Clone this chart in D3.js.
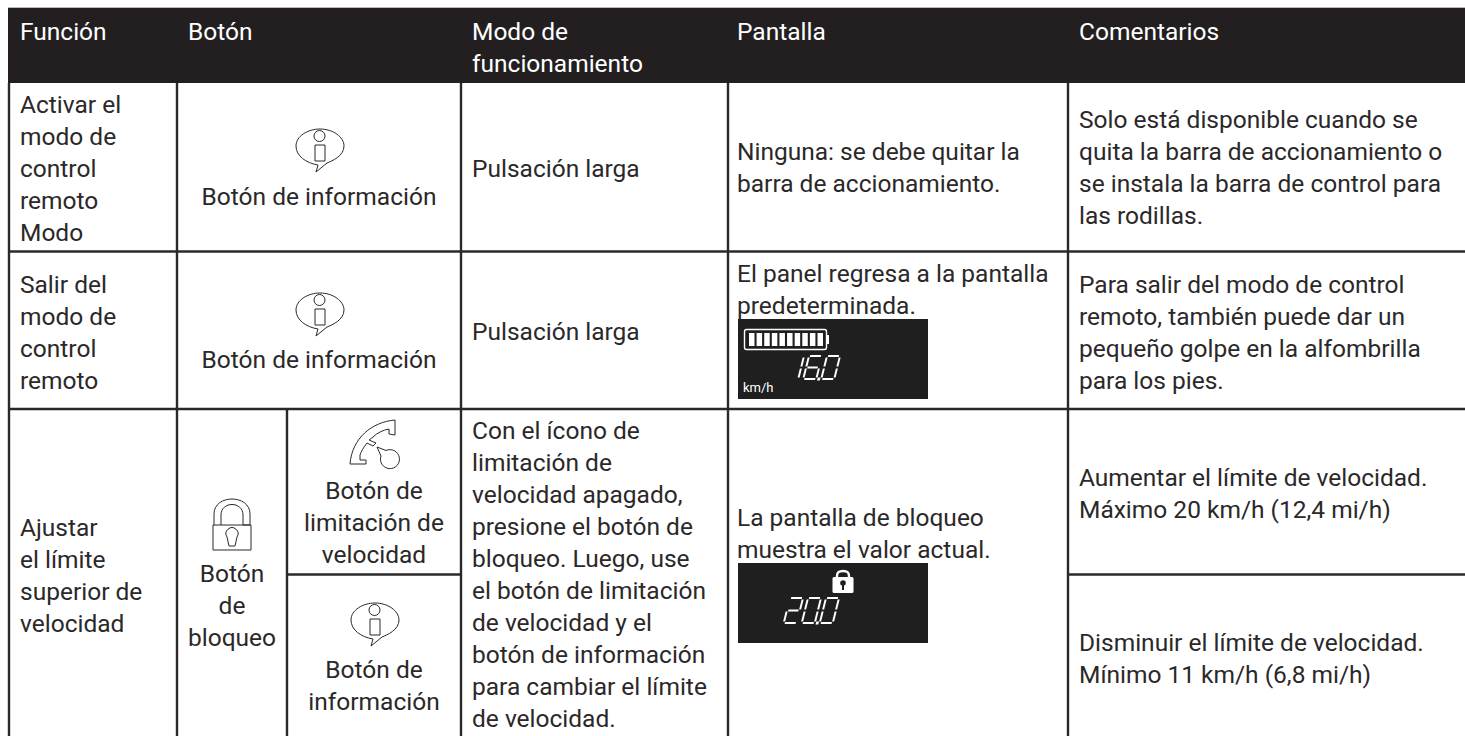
<!DOCTYPE html>
<html>
<head>
<meta charset="UTF-8">
<title>Modo de control remoto</title>
<script src="https://d3js.org/d3.v7.min.js"></script>
<style>
  html, body { margin: 0; background: #fff; }
  svg { display: block; }
  text { font-family: Roboto, sans-serif; font-size: 24.5px; fill: #2b2829; }
</style>
</head>
<body>
<svg id="chart" width="1465" height="736"></svg>
<script>
var headers = ["Función", "Botón", "Modo de|funcionamiento", "Pantalla", "Comentarios"];
var functions = ["Activar el|modo de|control|remoto|Modo", "Salir del|modo de|control|remoto", "Ajustar|el límite|superior de|velocidad"];
var modes = ["Pulsación larga", "Pulsación larga", "Con el ícono de|limitación de|velocidad apagado,|presione el botón de|bloqueo. Luego, use|el botón de limitación|de velocidad y el|botón de información|para cambiar el límite|de velocidad."];
var screens = ["Ninguna: se debe quitar la|barra de accionamiento.", "El panel regresa a la pantalla|predeterminada.", "La pantalla de bloqueo|muestra el valor actual."];
var comments = ["Solo está disponible cuando se|quita la barra de accionamiento o|se instala la barra de control para|las rodillas.", "Para salir del modo de control|remoto, también puede dar un|pequeño golpe en la alfombrilla|para los pies.", "Aumentar el límite de velocidad.|Máximo 20 km/h (12,4 mi/h)", "Disminuir el límite de velocidad.|Mínimo 11 km/h (6,8 mi/h)"];
var infoLabel = "Botón de información";
var lockLabel = "Botón|de|bloqueo";
var limitLabel = "Botón de|limitación de|velocidad";
var infoLabelShort = "Botón de|información";
var speedDisplay = "16.0";
var lockDisplay = "20.0";
var batteryBars = [1, 2, 3, 4, 5, 6, 7, 8, 9, 10];

var ink = "#2b2829", dark = "#231f20", lcd = "#1f1f1f";
var svg = d3.select("#chart");
var lineH = 32;

// column and row edges
var colX = { fn: 9, btn: 177, mode: 461, screen: 728, comment: 1068, right: 1465, lock: 287 };
var rowY = { top: 8, head: 83, r1: 251.5, r2: 409, split: 574.5, bottom: 736 };

function label(text, x, y, anchor, color) {
  var t = svg.append("g").selectAll("text")
    .data(text.split("|")).join("text")
    .attr("x", x)
    .attr("y", function(d, i) { return y + i * lineH; })
    .attr("text-anchor", anchor || "start")
    .text(function(d) { return d; });
  if (color) t.style("fill", color);
}

function rule(x1, y1, x2, y2) {
  svg.append("line").attr("x1", x1).attr("y1", y1).attr("x2", x2).attr("y2", y2)
    .attr("stroke", ink).attr("stroke-width", 2.4);
}

// header band
svg.append("rect").attr("x", 8).attr("y", 7).attr("width", colX.right - 8).attr("height", 1).attr("fill", "#bbb");
svg.append("rect").attr("x", 8).attr("y", rowY.top).attr("width", colX.right - 8).attr("height", rowY.head - rowY.top).attr("fill", dark);
var headX = [20, 188, 472, 737, 1079];
headers.forEach(function(h, i) { label(h, headX[i], 40, "start", "#fff"); });

// grid
[colX.fn, colX.btn, colX.mode, colX.screen, colX.comment].forEach(function(x) { rule(x, rowY.head, x, rowY.bottom); });
rule(8, rowY.r1, colX.right, rowY.r1);
rule(8, rowY.r2, colX.right, rowY.r2);
rule(colX.lock, rowY.r2, colX.lock, rowY.bottom);
rule(colX.lock, rowY.split, colX.mode, rowY.split);
rule(colX.comment, rowY.split, colX.right, rowY.split);

// text columns
label(functions[0], 20, 113);
label(functions[1], 20, 293);
label(functions[2], 20, 536);
label(modes[0], 472, 177);
label(modes[1], 472, 340);
label(modes[2], 472, 439);
label(screens[0], 737, 160);
label(screens[1], 737, 282);
label(screens[2], 737, 526);
label(comments[0], 1079, 128);
label(comments[1], 1079, 293);
label(comments[2], 1079, 486);
label(comments[3], 1079, 651);

// button cells
label(infoLabel, 319, 205, "middle");
label(infoLabel, 319, 368, "middle");
label(lockLabel, 232, 582, "middle");
label(limitLabel, 374, 499, "middle");
label(infoLabelShort, 374, 678, "middle");

function icon(path, x, y) {
  svg.append("path").attr("d", path).attr("transform", "translate(" + x + "," + y + ")")
    .attr("fill", "none").attr("stroke", ink).attr("stroke-width", 1);
}
var infoPath = "M-4,26 L-2,19 C-14,17 -24,10 -24,0 C-24,-10 -12,-17 0,-17 C13,-17 24,-9 24,0 C24,10 12,15 7,17 Z" +
  "M5,-10 A5.5,5.5 0 1 1 -6,-10 A5.5,5.5 0 1 1 5,-10 Z M-5,-1 H5 V15 H-5 Z";
icon(infoPath, 320, 146);
icon(infoPath, 320, 310);
icon(infoPath, 375, 620);

// lock button
icon("M-19,23 H19 V48 H-19 Z M-18,23 V12 C-18,-8 18,-8 18,12 V23 H11 V13 C11,-1 -11,-1 -11,13 V23" +
  "M-3,44 L-5,35 A6,6 0 1 1 5,35 L3,44 Z", 232, 502);

// speed limit button
icon("M0,44 C2,18 22,2 45,0 V15 L39,14 V9 C33,10 27,13 23,17 L19,20 L26,23 L23,26 L17,23 C13,28 11,32 10,35 V40 H16 V44 Z", 350, 420);
icon("M27,27 L36,30.5 A9.5,9.5 0 1 1 31,36 Z", 350, 420);

// LCD panels
var segments = { "0": "abcdef", "1": "bc", "2": "abged", "6": "acdefg" };
var segLines = {
  a: [[0.08, 0], [0.92, 0]], b: [[1, 0.06], [1, 0.46]], c: [[1, 0.54], [1, 0.94]],
  d: [[0.08, 1], [0.92, 1]], e: [[0, 0.54], [0, 0.94]], f: [[0, 0.06], [0, 0.46]], g: [[0.1, 0.5], [0.9, 0.5]]
};
function lcdNumber(value, x, y, w, h, gap) {
  var g = svg.append("g").attr("transform", "translate(" + x + "," + y + ") skewX(-14)");
  var cursor = 0;
  value.split("").forEach(function(ch) {
    if (ch === ".") {
      g.append("rect").attr("x", cursor - gap * 0.5 - 1.4).attr("y", h - 1.6).attr("width", 2.8).attr("height", 3).attr("fill", "#fff");
      return;
    }
    // the 1 only takes the right hand segments, so it stays narrow
    var dw = ch === "1" ? 1 : w;
    segments[ch].split("").forEach(function(s) {
      var p = segLines[s];
      g.append("line").attr("x1", cursor + p[0][0] * dw).attr("y1", p[0][1] * h)
        .attr("x2", cursor + p[1][0] * dw).attr("y2", p[1][1] * h)
        .attr("stroke", "#fff").attr("stroke-width", 2);
    });
    cursor += dw + gap;
  });
}

svg.append("rect").attr("x", 738).attr("y", 319).attr("width", 190).attr("height", 80).attr("fill", lcd);
svg.append("rect").attr("x", 744.5).attr("y", 329.5).attr("width", 82).attr("height", 20).attr("rx", 2)
  .attr("fill", "none").attr("stroke", "#fff").attr("stroke-width", 1.4);
svg.append("rect").attr("x", 826.5).attr("y", 335).attr("width", 2.5).attr("height", 9).attr("fill", "#fff");
var batteryX = d3.scaleBand().domain(batteryBars).range([749, 823]).paddingInner(0.28);
svg.append("g").selectAll("rect").data(batteryBars).join("rect")
  .attr("x", function(d) { return batteryX(d); }).attr("y", 333)
  .attr("width", batteryX.bandwidth()).attr("height", 13).attr("fill", "#fff");
lcdNumber(speedDisplay, 803, 356, 13, 23, 5);
svg.append("text").attr("x", 743).attr("y", 392).style("font-size", "13px").style("fill", "#fff").text("km/h");

svg.append("rect").attr("x", 738).attr("y", 563).attr("width", 190).attr("height", 80).attr("fill", lcd);
lcdNumber(lockDisplay, 790, 598, 13, 25, 5);
svg.append("rect").attr("x", 832.5).attr("y", 577).attr("width", 21).attr("height", 16).attr("rx", 1.5).attr("fill", "#fff");
svg.append("path").attr("d", "M837,578 V576 C837,572 839,571 843,571 C847,571 849,572 849,576 V578")
  .attr("fill", "none").attr("stroke", "#fff").attr("stroke-width", 2.4);
svg.append("circle").attr("cx", 843).attr("cy", 583).attr("r", 2.8).attr("fill", lcd);
svg.append("rect").attr("x", 842).attr("y", 584).attr("width", 2).attr("height", 6).attr("fill", lcd);
</script>
</body>
</html>
